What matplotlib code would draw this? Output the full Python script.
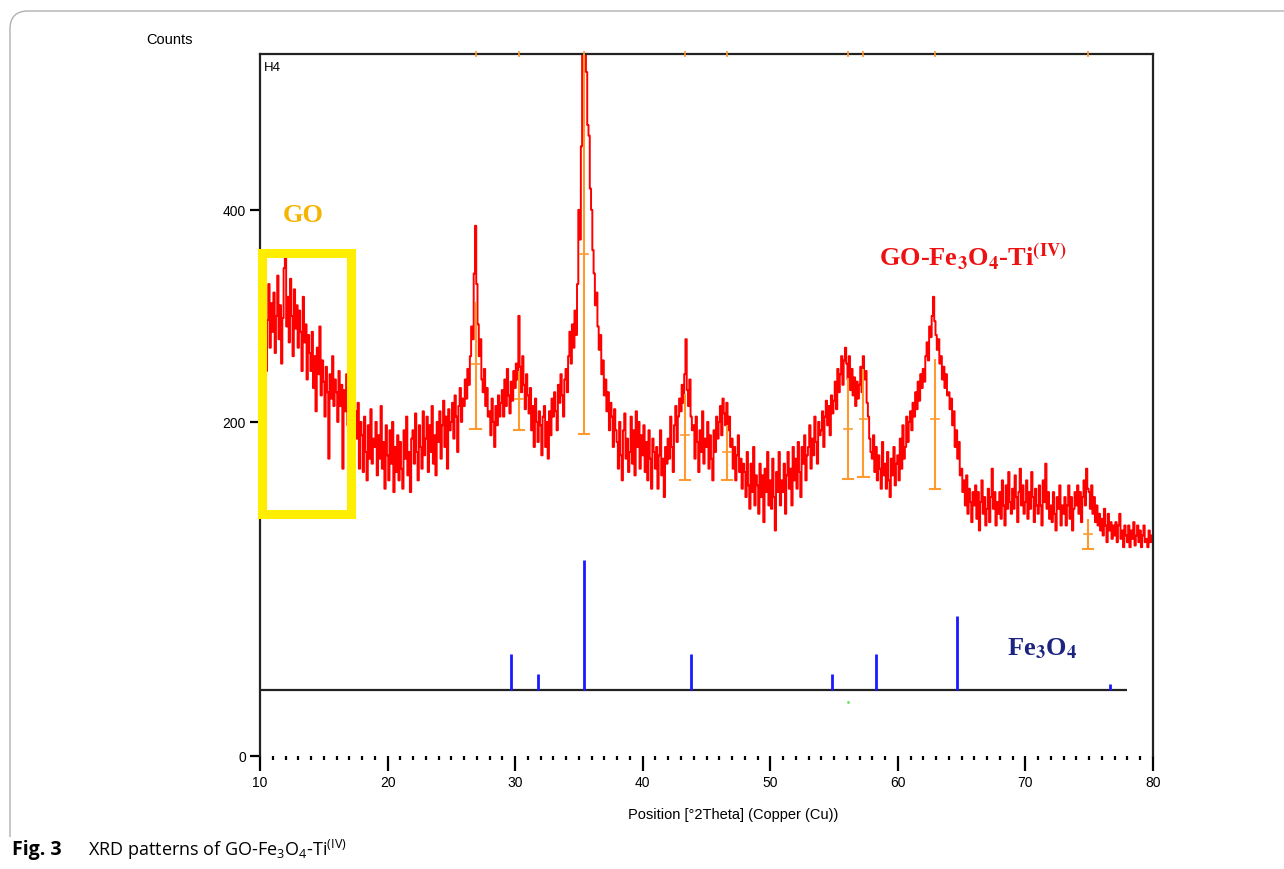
import numpy as np
import matplotlib.pyplot as plt
from matplotlib.path import Path
from matplotlib.patches import PathPatch, Rectangle
from matplotlib.font_manager import FontProperties

plt.rcParams['mathtext.fontset'] = 'custom'
plt.rcParams['mathtext.rm'] = 'Open Sans'
plt.rcParams['mathtext.bf'] = 'Open Sans:bold'

# measured scan, 10-80 deg 2theta, 0.1 deg steps (one row per degree)
counts = [
    290, 262, 318, 275, 305, 248, 296, 330, 270, 312,
    285, 322, 265, 300, 338, 278, 310, 255, 298, 345,
    362, 290, 318, 275, 335, 300, 262, 325, 288, 310,
    270, 305, 285, 248, 318, 275, 292, 240, 282, 265,
    248, 285, 232, 262, 210, 270, 245, 290, 225, 258,
    238, 205, 252, 228, 178, 245, 222, 262, 215, 240,
    228, 200, 248, 215, 235, 172, 230, 210, 245, 198,
    212, 185, 225, 195, 178, 210, 190, 218, 172, 200,
    192, 170, 205, 182, 165, 198, 178, 212, 175, 190,
    185, 200, 168, 192, 178, 215, 172, 188, 160, 198,
    180, 165, 195, 175, 200, 158, 185, 170, 192, 165,
    188, 172, 160, 195, 178, 205, 168, 182, 158, 190,
    195, 175, 208, 182, 165, 198, 185, 172, 210, 180,
    190, 205, 170, 198, 182, 215, 175, 192, 168, 200,
    188, 210, 178, 198, 220, 185, 205, 172, 212, 195,
    200, 218, 190, 225, 205, 182, 215, 232, 200, 222,
    215, 240, 222, 250, 235, 262, 290, 278, 340, 385,
    330, 292, 262, 278, 240, 228, 250, 215, 232, 205,
    210, 192, 222, 200, 185, 215, 198, 225, 205, 218,
    230, 205, 240, 215, 250, 225, 208, 238, 220, 248,
    232, 255, 240, 300, 252, 228, 262, 235, 212, 245,
    225, 208, 232, 195, 215, 185, 222, 200, 188, 210,
    198, 180, 205, 215, 185, 200, 178, 210, 192, 222,
    205, 228, 210, 195, 235, 218, 245, 225, 205, 240,
    250, 228, 262, 285, 255, 292, 270, 305, 282, 330,
    400, 372, 460, 560, 545, 560, 530, 480, 470, 420,
    400, 362, 340, 310, 322, 290, 268, 282, 245, 258,
    225, 240, 210, 228, 195, 218, 205, 185, 212, 195,
    188, 172, 200, 180, 165, 195, 208, 178, 190, 170,
    182, 205, 175, 195, 168, 210, 185, 200, 172, 192,
    180, 198, 170, 188, 165, 195, 178, 160, 190, 182,
    172, 185, 160, 180, 195, 168, 178, 155, 185, 175,
    190, 178, 205, 185, 170, 198, 215, 188, 205, 222,
    210, 235, 218, 245, 278, 230, 215, 240, 205, 195,
    198, 178, 205, 188, 170, 195, 182, 210, 175, 190,
    185, 200, 172, 192, 178, 165, 195, 182, 205, 190,
    200, 215, 192, 222, 208, 198, 218, 195, 205, 185,
    190, 172, 185, 165, 180, 192, 170, 178, 160, 175,
    170, 155, 182, 162, 148, 175, 158, 185, 150, 168,
    162, 145, 175, 155, 168, 140, 172, 158, 182, 150,
    165, 148, 178, 155, 135, 170, 158, 182, 150, 165,
    158, 175, 145, 168, 182, 160, 172, 150, 185, 165,
    178, 160, 188, 170, 155, 185, 175, 192, 165, 180,
    185, 198, 172, 190, 180, 205, 188, 175, 200, 192,
    195, 210, 185, 205, 220, 198, 215, 192, 225, 208,
    220, 238, 212, 250, 228, 245, 262, 235, 258, 270,
    255, 240, 262, 230, 250, 225, 242, 215, 238, 222,
    235, 252, 228, 262, 240, 248, 218, 205, 190, 182,
    178, 192, 170, 185, 165, 180, 172, 160, 188, 168,
    175, 160, 182, 165, 155, 178, 168, 185, 162, 175,
    180, 165, 190, 172, 198, 178, 185, 205, 188, 200,
    210, 195, 218, 205, 228, 212, 238, 220, 245, 232,
    250, 238, 262, 275, 258, 290, 280, 300, 318, 295,
    282, 268, 278, 255, 262, 240, 252, 232, 245, 225,
    228, 212, 222, 198, 210, 185, 195, 178, 188, 168,
    172, 158, 165, 150, 168, 145, 160, 152, 140, 158,
    150, 162, 142, 158, 135, 152, 165, 145, 155, 138,
    148, 160, 140, 155, 172, 148, 158, 138, 152, 145,
    158, 142, 165, 150, 138, 162, 148, 170, 152, 145,
    160, 148, 168, 155, 140, 158, 172, 150, 162, 145,
    152, 165, 142, 158, 148, 170, 155, 140, 160, 150,
    145, 162, 150, 138, 165, 152, 175, 148, 158, 142,
    150, 140, 158, 145, 135, 155, 148, 162, 138, 150,
    145, 155, 138, 150, 162, 142, 155, 135, 148, 158,
    150, 162, 145, 158, 140, 155, 165, 150, 172, 160,
    158, 148, 162, 145, 155, 140, 150, 138, 145, 135,
    142, 132, 148, 138, 128, 145, 135, 140, 130, 138,
    132, 140, 128, 138, 145, 130, 135, 125, 138, 132,
    128, 138, 125, 135, 130, 140, 126, 132, 138, 128,
    135, 125, 132, 138, 128, 130, 125, 135, 128, 132,
    128,
]
two_theta = np.linspace(10, 80, len(counts))

# fitted peaks: position, background, top, half-height
peak_pos = [26.9, 30.3, 35.4, 43.3, 46.6, 56.1, 57.3, 62.9, 74.9]
peak_base = [196, 195, 193, 165, 165, 166, 167, 160, 124]
peak_top = [313, 248, 560, 226, 198, 241, 250, 259, 142]
peak_mid = [255, 222, 358, 192, 182, 196, 203, 203, 133]

# Fe3O4 reference lines (relative intensity)
ref_pos = [29.7, 31.8, 35.4, 43.8, 54.8, 58.3, 64.6, 76.6]
ref_rel = [28, 12, 100, 28, 12, 28, 57, 5]


# counts axis: compressed below 200
def to_axis(c):
    c = np.asarray(c, dtype=float)
    return np.where(c <= 200, c * 334 / 200, 334 + (c - 200) * 212 / 200)


def from_axis(v):
    v = np.asarray(v, dtype=float)
    return np.where(v <= 334, v * 200 / 334, 200 + (v - 334) * 200 / 212)


W, H = 1284, 870
fig = plt.figure(figsize=(W / 100, H / 100), dpi=100)
ax = fig.add_axes([260 / W, 1 - 757 / H, 893 / W, 702 / H])
ax.set_yscale('function', functions=(to_axis, from_axis))
ax.set_xlim(10, 80)
ax.set_ylim(0, 547)

axis_font = ['Liberation Sans Narrow', 'Liberation Sans', 'DejaVu Sans']

ax.plot(two_theta, counts, color='#ff0000', lw=1.4, drawstyle='steps-mid', zorder=2)

orange = '#ff9a2e'
ax.vlines(peak_pos, peak_base, peak_top, color=orange, lw=1.5, zorder=3)
for p, b, m in zip(peak_pos, peak_base, peak_mid):
    ax.plot([p - 0.4, p + 0.4], [b, b], color=orange, lw=1.5, zorder=3)
    ax.plot([p - 0.3, p + 0.3], [m, m], color=orange, lw=1.2, zorder=3)
ax.plot(peak_pos, [1.0] * len(peak_pos), '|', color=orange, ms=4, mew=1.2,
        transform=ax.get_xaxis_transform(), clip_on=False, zorder=4)

for s in ['left', 'top', 'right']:
    ax.spines[s].set_linewidth(1.6)
    ax.spines[s].set_color('#222222')
ax.spines['bottom'].set_visible(False)

ax.set_xticks(range(10, 81, 10))
ax.set_xticks(range(10, 81, 1), minor=True)
ax.set_yticks([0, 200, 400])
ax.tick_params(axis='x', which='major', length=11, width=1.6, direction='out',
               pad=3, labelsize=10)
ax.tick_params(axis='x', which='minor', length=3, width=1.6, direction='out', pad=1)
ax.tick_params(axis='y', which='major', length=7, width=1.6, direction='out',
               pad=3, labelsize=10)
ax.yaxis.set_minor_locator(plt.NullLocator())
for lab in ax.get_xticklabels() + ax.get_yticklabels():
    lab.set_family(axis_font)

ax.set_xlabel('Position [°2Theta] (Copper (Cu))', family=axis_font, fontsize=10.5,
              labelpad=14)
ax.xaxis.set_label_coords(0.53, -0.072)

ax.text(0.004, 0.99, 'H4', transform=ax.transAxes, va='top', ha='left',
        family=axis_font, fontsize=9.5)
fig.text(170 / W, 1 - 40 / H, 'Counts', ha='center', va='center',
         family=axis_font, fontsize=10.5)

# reference stick pattern under the scan
ref = ax.inset_axes([0, 0.094, 1, 0.185])
ref.set_xlim(10, 80)
ref.set_ylim(0, 100)
ref.axis('off')
ref.patch.set_alpha(0)
ref.hlines(0, 10, 78, color='#222222', lw=1.6, clip_on=False)
ref.vlines(ref_pos, 0, ref_rel, color='#1a1aff', lw=2, clip_on=False)
ref.plot([56.1], [-9], '.', color='#66dd66', ms=2, clip_on=False)

# GO region
ax.add_patch(Rectangle((10.15, 145), 17.1 - 10.15, 359 - 145, fill=False,
                       edgecolor='#ffee00', lw=6.5, clip_on=False, zorder=5))

serif_bold = FontProperties(family='Liberation Serif', weight='bold', size=19,
                            math_fontfamily='stix')
ax.text(13.37, 396, 'GO', color='#f5b400', fontproperties=serif_bold,
        ha='center', va='center')

label_font = FontProperties(family='Liberation Serif', weight='bold', size=19,
                            math_fontfamily='stix')
ax.text(65.9, 356, r'GO-Fe$\mathbf{_3}$O$\mathbf{_4}$-Ti$^{\mathbf{(IV)}}$',
        color='#ee1111', fontproperties=label_font, ha='center', va='center')
ax.text(71.3, 65, r'Fe$\mathbf{_3}$O$\mathbf{_4}$', color='#1c2480',
        fontproperties=label_font, ha='center', va='center')

# caption and frame
fig.text(12 / W, 1 - 850 / H, 'Fig. 3', family='Open Sans', weight='bold',
         fontsize=14, va='center')
fig.text(88 / W, 1 - 850 / H, r'XRD patterns of GO-Fe$_3$O$_4$-Ti$^{(\mathrm{IV})}$',
         family='Open Sans', fontsize=13, va='center')

r = 18
verts = [(10, 838), (10, 12 + r), (10, 12), (10 + r, 12), (W + 5, 12)]
codes = [Path.MOVETO, Path.LINETO, Path.CURVE3, Path.CURVE3, Path.LINETO]
verts = [(x / W, 1 - y / H) for x, y in verts]
fig.add_artist(PathPatch(Path(verts, codes), fill=False, edgecolor='#b0b0b0',
                         lw=1, transform=fig.transFigure))

fig.savefig('out.png', dpi=100)
